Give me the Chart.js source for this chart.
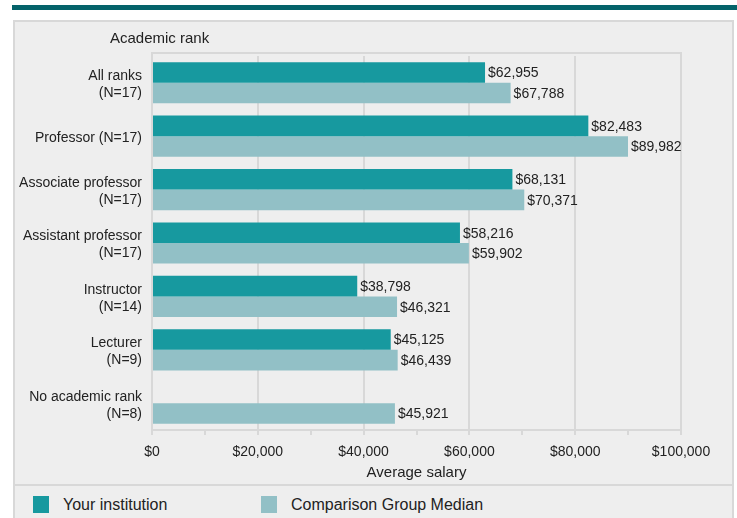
<!DOCTYPE html>
<html>
<head>
<meta charset="utf-8">
<script src="https://cdn.jsdelivr.net/npm/chart.js@4.4.0/dist/chart.umd.min.js"></script>
<style>
  body { margin: 0; background: #fff; font-family: "Liberation Sans", Arial, sans-serif; }
  #wrap { position: relative; width: 737px; height: 518px; overflow: hidden; }
  #topbar { position: absolute; left: 12px; top: 5px; width: 725px; height: 5px; background: #04636a; }
  #panel { position: absolute; left: 13px; top: 20px; width: 721px; height: 600px; background: #eeeeee;
           border: 2px solid #d8d8d8; box-sizing: border-box; }
  #sep { position: absolute; left: 13px; top: 484px; width: 721px; height: 2px; background: #d8d8d8; }
  #chart { position: absolute; left: 0; top: 0; }
  .leg { position: absolute; top: 496px; height: 17px; font-size: 16px; color: #222; line-height: 17px; }
  .leg span.sw { position: absolute; left: 0; top: 0; width: 16px; height: 17px; }
  .leg span.tx { position: absolute; left: 30px; top: 0; white-space: nowrap; }
</style>
</head>
<body>
<div id="wrap">
  <div id="topbar"></div>
  <div id="panel"></div>
  <div id="sep"></div>
  <canvas id="chart" width="737" height="484"></canvas>
  <div id="legend"></div>
</div>
<script>
var categories = [
  ['All ranks', '(N=17)'],
  'Professor (N=17)',
  ['Associate professor', '(N=17)'],
  ['Assistant professor', '(N=17)'],
  ['Instructor', '(N=14)'],
  ['Lecturer', '(N=9)'],
  ['No academic rank', '(N=8)']
];
var yourInstitution = [62955, 82483, 68131, 58216, 38798, 45125, null];
var comparisonMedian = [67788, 89982, 70371, 59902, 46321, 46439, 45921];
var seriesNames = ['Your institution', 'Comparison Group Median'];
var seriesColors = ['#17999f', '#92c0c6'];

var gridColor = '#d8d8d8';
var textColor = '#222';

function money(v) { return '$' + Number(v).toLocaleString('en-US'); }

// "$62,955" labels at the end of each bar
var valueLabels = {
  id: 'valueLabels',
  afterDatasetsDraw: function (chart) {
    var ctx = chart.ctx;
    ctx.save();
    ctx.font = '14px "Liberation Sans", Arial, sans-serif';
    ctx.fillStyle = textColor;
    ctx.textAlign = 'left';
    ctx.textBaseline = 'middle';
    chart.data.datasets.forEach(function (ds, i) {
      chart.getDatasetMeta(i).data.forEach(function (el, j) {
        if (ds.data[j] == null) return;
        ctx.fillText(money(ds.data[j]), el.x + 3, el.y + 1);
      });
    });
    ctx.restore();
  }
};

// plot frame sits a little above the first band, plus the "Academic rank" heading
var frame = {
  id: 'frame',
  beforeDatasetsDraw: function (chart) {
    var a = chart.chartArea, ctx = chart.ctx, t = a.top - 3;
    ctx.save();
    ctx.strokeStyle = gridColor;
    ctx.lineWidth = 2;
    ctx.beginPath();
    ctx.moveTo(a.left - 1, t);
    ctx.lineTo(a.right + 1, t);
    ctx.moveTo(a.left, t);
    ctx.lineTo(a.left, a.top);
    ctx.moveTo(a.right, t);
    ctx.lineTo(a.right, a.top);
    ctx.stroke();
    ctx.restore();
  },
  afterDraw: function (chart) {
    var ctx = chart.ctx;
    ctx.save();
    ctx.font = '15px "Liberation Sans", Arial, sans-serif';
    ctx.fillStyle = textColor;
    ctx.textBaseline = 'middle';
    ctx.fillText('Academic rank', 110, 39);
    ctx.restore();
  }
};

new Chart(document.getElementById('chart'), {
  type: 'bar',
  data: {
    labels: categories,
    datasets: [
      { label: seriesNames[0], data: yourInstitution, backgroundColor: seriesColors[0] },
      { label: seriesNames[1], data: comparisonMedian, backgroundColor: seriesColors[1] }
    ]
  },
  options: {
    indexAxis: 'y',
    responsive: false,
    animation: false,
    layout: { padding: { top: 56, right: 56, left: 0, bottom: 0 } },
    datasets: { bar: { borderWidth: 0, barPercentage: 1, categoryPercentage: 0.77 } },
    plugins: { legend: { display: false }, tooltip: { enabled: false } },
    scales: {
      x: {
        min: 0, max: 100000,
        afterFit: function (s) { s.height = 54; },
        ticks: {
          stepSize: 10000, autoSkip: false, maxRotation: 0, padding: 9,
          color: textColor, font: { size: 14, family: '"Liberation Sans", Arial, sans-serif' },
          callback: function (v) { return v % 20000 === 0 ? money(v) : ''; }
        },
        grid: {
          lineWidth: 2, tickLength: 5, tickColor: gridColor,
          color: function (c) { return c.tick && c.tick.value % 20000 === 0 ? gridColor : 'rgba(0,0,0,0)'; }
        },
        border: { color: gridColor, width: 2 },
        title: {
          display: true, text: 'Average salary', color: textColor, padding: { top: 0, bottom: 2 },
          font: { size: 15, family: '"Liberation Sans", Arial, sans-serif' }
        }
      },
      y: {
        afterFit: function (s) {
          s.width = 152;
          // nudge category labels down a touch to sit level with the bar pairs
          if (!s._nudged) {
            var draw = s.drawLabels;
            s.drawLabels = function (area) {
              this.ctx.save();
              this.ctx.translate(0, 2);
              draw.call(this, area);
              this.ctx.restore();
            };
            s._nudged = true;
          }
        },
        grid: { display: false, drawTicks: false },
        border: { color: gridColor, width: 2 },
        ticks: {
          padding: 10, color: textColor,
          font: { size: 14, family: '"Liberation Sans", Arial, sans-serif' }
        }
      }
    }
  },
  plugins: [frame, valueLabels]
});

var legendLeft = [33, 261];
var legend = document.getElementById('legend');
seriesNames.forEach(function (name, i) {
  var d = document.createElement('div');
  d.className = 'leg';
  d.style.left = legendLeft[i] + 'px';
  d.innerHTML = '<span class="sw" style="background:' + seriesColors[i] + '"></span><span class="tx">' + name + '</span>';
  legend.appendChild(d);
});
</script>
</body>
</html>
